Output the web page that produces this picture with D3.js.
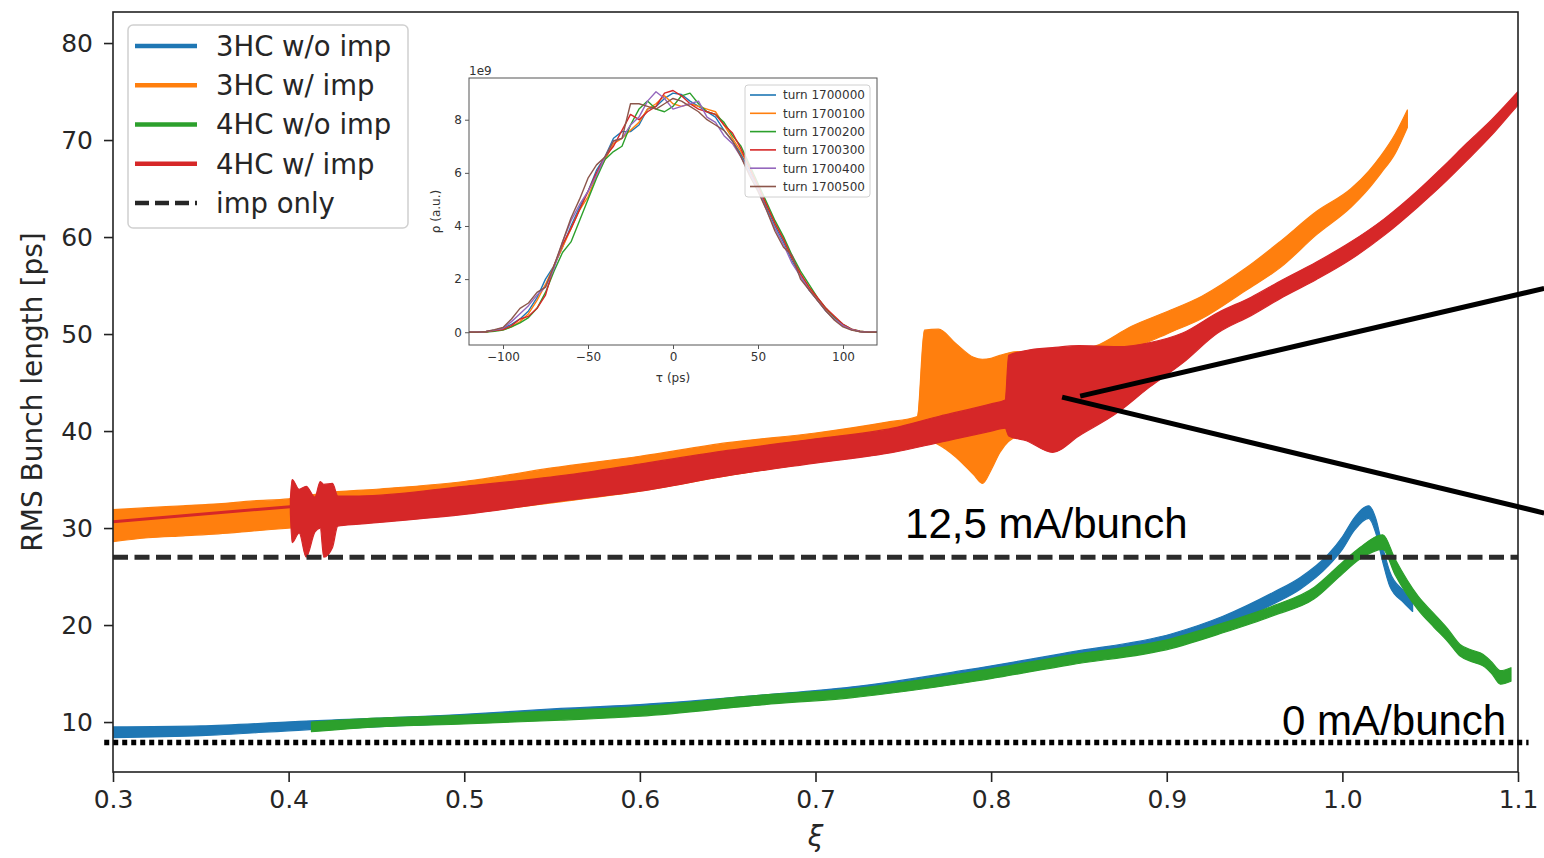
<!DOCTYPE html>
<html><head><meta charset="utf-8">
<script src="https://cdn.jsdelivr.net/npm/d3@7"></script>
<style>body{margin:0;background:#fff}svg{display:block}</style>
</head><body>
<svg id="c" width="1544" height="858"></svg>
<script>
// ---------- main chart data ----------
const xiTicks = [0.3,0.4,0.5,0.6,0.7,0.8,0.9,1.0,1.1];
const yTicks = [10,20,30,40,50,60,70,80];
const legendLabels = ["3HC w/o imp","3HC w/ imp","4HC w/o imp","4HC w/ imp","imp only"];
const impOnly = 27.0;       // dashed line
const zeroCurrent = 7.9;    // dotted line (0 mA/bunch)

// 3HC w/o imp (blue): xi, lower, upper envelope
const blueXi = [0.300,0.350,0.410,0.500,0.555,0.600,0.671,0.720,0.787,0.845,0.903,0.932,0.961,0.976,0.992,1.000,1.007,1.015,1.019,1.023,1.027,1.035,1.040];
const blueLo = [8.4,8.6,9.2,9.9,10.5,10.9,11.9,12.7,14.4,16.3,18.1,19.8,22.2,23.7,26.1,27.8,29.8,31.0,29.5,26.5,24.0,22.3,21.4];
const blueHi = [9.5,9.6,10.1,10.8,11.4,11.8,12.8,13.6,15.4,17.2,19.1,20.9,23.4,24.9,27.3,29.1,31.1,32.3,31.0,28.0,25.5,23.5,22.5];

// 3HC w/ imp (orange)
const orangeXi = [0.300,0.320,0.340,0.360,0.380,0.400,0.420,0.450,0.500,0.550,0.600,0.650,0.700,0.740,0.758,0.762,0.770,0.780,0.790,0.795,0.800,0.805,0.815,0.825,0.840,0.860,0.880,0.900,0.920,0.945,0.965,0.985,1.005,1.015,1.022,1.030,1.037];
const orangeLo = [28.6,29.0,29.2,29.4,29.7,30.0,30.3,30.7,31.5,32.6,33.8,35.4,36.8,38.0,38.6,39.1,38.6,37.3,35.5,34.6,36.0,37.8,39.4,39.5,41.0,44.5,48.2,50.0,51.6,54.5,56.9,60.2,63.1,65.0,66.6,68.6,71.3];
const orangeHi = [31.9,32.1,32.3,32.5,32.8,33.0,33.6,34.0,34.8,36.2,37.4,38.8,39.8,40.9,41.5,50.4,50.5,49.0,47.6,47.4,47.5,47.8,48.2,48.0,48.0,48.8,50.8,52.3,53.9,56.8,59.6,62.6,65.0,66.8,68.4,70.6,73.1];

// 4HC w/o imp (green)
const greenXi = [0.413,0.450,0.500,0.555,0.600,0.671,0.720,0.787,0.845,0.903,0.932,0.961,0.984,0.999,1.010,1.023,1.030,1.043,1.052,1.060,1.067,1.074,1.080,1.085,1.090,1.096];
const greenLo = [9.0,9.5,9.8,10.2,10.6,11.8,12.5,14.1,15.9,17.6,19.2,21.0,22.7,25.1,26.8,27.8,25.2,21.6,19.8,18.3,16.8,16.2,15.8,15.0,13.9,14.2];
const greenHi = [10.0,10.4,10.7,11.2,11.6,12.8,13.4,15.1,16.9,18.6,20.2,22.0,23.9,26.3,28.0,29.3,26.8,23.0,21.2,19.6,18.0,17.4,17.0,16.2,15.3,15.6];

// 4HC w/ imp (red): thin stable part, then noisy band
const redLineXi = [0.300,0.401];
const redLineY  = [30.65,32.2];
const redXi = [0.401,0.402,0.406,0.410,0.415,0.418,0.420,0.425,0.428,0.440,0.500,0.560,0.600,0.650,0.700,0.744,0.770,0.800,0.808,0.810,0.820,0.835,0.850,0.872,0.890,0.909,0.929,0.948,0.966,0.985,1.004,1.024,1.043,1.057,1.071,1.085,1.099,1.100];
const redLo = [31.5,28.5,29.5,27.0,29.6,30.0,27.0,28.0,30.2,30.4,31.4,32.9,33.8,35.4,36.7,37.8,38.8,40.0,40.3,39.5,39.0,37.8,39.5,41.9,44.5,47.0,50.1,51.9,53.8,55.6,57.6,60.2,63.1,65.4,67.9,70.5,73.4,73.6];
const redHi = [33.0,35.0,34.0,34.3,33.2,34.8,34.5,34.6,33.3,33.3,34.3,35.5,36.6,38.0,39.2,40.3,41.5,42.8,43.2,47.8,48.3,48.6,48.8,48.7,49.1,50.1,52.2,53.8,55.6,57.4,59.4,61.9,64.8,67.2,69.7,72.1,74.8,75.0];

// annotations (data coordinates)
const annText = ["12,5 mA/bunch","0 mA/bunch"];
const annTextPos = [[0.751,29.0],[1.0933,8.66]];
const zoomLineA = [[0.8507,43.6],[1.1149,54.7]];
const zoomLineB = [[0.8404,43.5],[1.1149,31.55]];

// ---------- inset data ----------
const tau = [-120,-115,-110,-105,-100,-95,-90,-85,-80,-75,-70,-65,-60,-55,-50,-45,-40,-35,-30,-25,-20,-15,-10,-5,0,5,10,15,20,25,30,35,40,45,50,55,60,65,70,75,80,85,90,95,100,105,110,115,120];
const turnLabels = ["turn 1700000","turn 1700100","turn 1700200","turn 1700300","turn 1700400","turn 1700500"];
const turn0 = [0,0,0.02,0.08, 0.15,0.3,0.5,0.8,1.3, 2.0,2.5,3.2,4.0,4.7, 5.3,6.1,6.6,7.3,7.55, 7.55,7.8,8.4,8.5,8.8, 9.0, 8.95,8.7,8.5,8.3,8.1, 7.6,7.2,6.7,6.1,5.4, 4.7,4.0,3.4,2.7,2.1, 1.6,1.2,0.8,0.5,0.25, 0.1,0.03,0,0];
const turn1 = [0,0,0.02,0.06, 0.1,0.2,0.4,0.7,1.2, 1.8,2.5,3.2,3.9,4.6, 5.1,5.9,6.5,7.1,7.3, 7.6,7.9,8.4,8.6,8.9, 8.6, 8.5,8.6,8.5,8.4,8.3, 7.8,7.3,6.8,6.2,5.5, 4.8,4.1,3.5,2.8,2.2, 1.7,1.2,0.85,0.5,0.25, 0.1,0.03,0,0];
const turn2 = [0,0,0.01,0.04, 0.08,0.2,0.35,0.55,0.9, 1.5,2.3,3.0,3.4,4.2, 5.0,5.8,6.5,6.8,7.0, 7.8,8.4,8.7,8.4,8.3, 8.5, 8.9,9.0,8.6,8.3,8.2, 7.9,7.4,7.0,6.3,5.6, 4.9,4.2,3.6,2.9,2.3, 1.8,1.3,0.9,0.55,0.3, 0.12,0.04,0,0];
const turn3 = [0,0,0.02,0.06, 0.1,0.25,0.5,0.6,0.9, 1.4,2.5,3.3,3.9,4.6, 5.3,6.0,6.6,7.0,7.6, 8.2,8.0,8.3,8.5,9.0, 9.1, 8.9,8.6,8.4,8.3,8.2, 7.8,7.5,6.9,6.2,5.5, 4.8,4.1,3.5,2.8,2.2, 1.7,1.3,0.9,0.6,0.3, 0.12,0.04,0,0];
const turn4 = [0,0,0.03,0.08, 0.15,0.4,0.7,1.0,1.4, 1.7,2.4,3.4,4.2,4.8, 5.3,5.9,6.6,7.2,7.3, 7.8,8.1,8.7,9.05,8.8, 8.4, 8.5,8.6,8.7,8.1,7.9, 7.4,7.1,6.6,6.0,5.4, 4.6,3.9,3.3,2.6,2.1, 1.6,1.2,0.8,0.5,0.25, 0.1,0.03,0,0];
const turn5 = [0,0,0.03,0.1, 0.18,0.5,0.9,1.1,1.5, 1.7,2.5,3.4,4.3,5.0, 5.8,6.3,6.6,7.2,7.3, 8.6,8.6,8.5,8.4,8.6, 8.8, 8.7,8.5,8.3,8.0,7.8, 7.6,7.2,6.6,5.9,5.3, 4.6,3.8,3.2,2.9,2.0, 1.6,1.2,0.8,0.45,0.2, 0.08,0.02,0,0];
const insetXTicks = [-100,-50,0,50,100];
const insetYTicks = [0,2,4,6,8];

// ---------- drawing ----------
const C = {blue:"#1f77b4",orange:"#ff7f0e",green:"#2ca02c",red:"#d62728",purple:"#9467bd",brown:"#8c564b"};
const FONT = "'DejaVu Sans', sans-serif";
const svg = d3.select("#c");
const x = d3.scaleLinear().domain([0.3,1.1]).range([113,1518]);
const y = d3.scaleLinear().domain([4.85,83.2]).range([772,12]);

svg.append("defs").append("clipPath").attr("id","clipMain")
  .append("rect").attr("x",x.range()[0]).attr("y",y.range()[1])
  .attr("width",x.range()[1]-x.range()[0]).attr("height",y.range()[0]-y.range()[1]);

const plot = svg.append("g").attr("clip-path","url(#clipMain)");
const area = d3.area().x(d=>x(d[0])).y0(d=>y(d[1])).y1(d=>y(d[2])).curve(d3.curveMonotoneX);
const line = d3.line().x(d=>x(d[0])).y(d=>y(d[1]));

function drawBand(xi,lo,hi,color){
  plot.append("path").datum(d3.zip(xi,lo,hi)).attr("d",area)
    .attr("fill",color).attr("stroke",color).attr("stroke-width",1.2).attr("stroke-linejoin","round");
}
drawBand(blueXi,blueLo,blueHi,C.blue);
drawBand(orangeXi,orangeLo,orangeHi,C.orange);
drawBand(greenXi,greenLo,greenHi,C.green);
plot.append("path").datum(d3.zip(redLineXi,redLineY)).attr("d",line)
  .attr("fill","none").attr("stroke",C.red).attr("stroke-width",3);
drawBand(redXi,redLo,redHi,C.red);

// imp only dashed line
plot.append("path").datum([[0.3,impOnly],[1.1,impOnly]]).attr("d",line)
  .attr("stroke","#2b2b2b").attr("stroke-width",5).attr("stroke-dasharray","15,6.5").attr("fill","none");

// frame
svg.append("rect").attr("x",x.range()[0]).attr("y",y.range()[1])
  .attr("width",x.range()[1]-x.range()[0]).attr("height",y.range()[0]-y.range()[1])
  .attr("fill","none").attr("stroke","#222").attr("stroke-width",1.6);

// axes
const xAxis = svg.append("g").attr("transform",`translate(0,${y.range()[0]})`)
  .call(d3.axisBottom(x).tickValues(xiTicks).tickFormat(d3.format(".1f")).tickSize(10).tickPadding(8));
const yAxis = svg.append("g").attr("transform",`translate(${x.range()[0]},0)`)
  .call(d3.axisLeft(y).tickValues(yTicks).tickSize(9).tickPadding(11));
[xAxis,yAxis].forEach(g=>{
  g.select(".domain").remove();
  g.selectAll(".tick line").attr("stroke","#222").attr("stroke-width",1.6);
  g.selectAll(".tick text").attr("fill","#262626").style("font-family",FONT).style("font-size","25px");
});

svg.append("text").attr("x",(x.range()[0]+x.range()[1])/2).attr("y",846)
  .attr("text-anchor","middle").style("font-family",FONT).style("font-size","28px").style("font-style","italic")
  .attr("fill","#262626").text("ξ");
svg.append("text").attr("transform",`translate(42,${(y.range()[0]+y.range()[1])/2}) rotate(-90)`)
  .attr("text-anchor","middle").style("font-family",FONT).style("font-size","28px")
  .attr("fill","#262626").text("RMS Bunch length [ps]");

// legend
const leg = svg.append("g");
leg.append("rect").attr("x",128).attr("y",25).attr("width",280).attr("height",203).attr("rx",5)
  .attr("fill","#fff").attr("fill-opacity",0.85).attr("stroke","#d0d0d0").attr("stroke-width",1.5);
const legColors = [C.blue,C.orange,C.green,C.red,"#262626"];
legendLabels.forEach((lab,i)=>{
  const yy = 46 + i*39.25;
  leg.append("line").attr("x1",135).attr("x2",197).attr("y1",yy).attr("y2",yy)
    .attr("stroke",legColors[i]).attr("stroke-width",4.5)
    .attr("stroke-dasharray",i===4?"14,6":null);
  leg.append("text").attr("x",216).attr("y",yy).attr("dy","0.36em")
    .style("font-family",FONT).style("font-size","27.5px").attr("fill","#262626").text(lab);
});

// annotations (overlay)
svg.append("path").datum([[0.295,zeroCurrent],[1.106,zeroCurrent]]).attr("d",line)
  .attr("stroke","#000").attr("stroke-width",5.5).attr("stroke-dasharray","5,4").attr("fill","none");
svg.append("text").attr("x",x(annTextPos[0][0])).attr("y",y(annTextPos[0][1]))
  .style("font-family","'Liberation Sans', Arial, sans-serif").style("font-size","42px").attr("fill","#000").text(annText[0]);
svg.append("text").attr("x",x(annTextPos[1][0])).attr("y",y(annTextPos[1][1])).attr("text-anchor","end")
  .style("font-family","'Liberation Sans', Arial, sans-serif").style("font-size","42px").attr("fill","#000").text(annText[1]);
[zoomLineA,zoomLineB].forEach(l=>{
  svg.append("path").datum(l).attr("d",line).attr("stroke","#000").attr("stroke-width",5).attr("fill","none");
});

// ---------- inset ----------
const ix = d3.scaleLinear().domain([-120,120]).range([469,877]);
const iy = d3.scaleLinear().domain([-0.48,9.57]).range([345,78]);
const ins = svg.append("g");
ins.append("rect").attr("x",ix.range()[0]-38).attr("y",iy.range()[1]-14)
  .attr("width",ix.range()[1]-ix.range()[0]+48).attr("height",iy.range()[0]-iy.range()[1]+60).attr("fill","#fff");
ins.append("defs").append("clipPath").attr("id","clipIns").append("rect")
  .attr("x",ix.range()[0]).attr("y",iy.range()[1]).attr("width",ix.range()[1]-ix.range()[0]).attr("height",iy.range()[0]-iy.range()[1]);
const turns = [turn0,turn1,turn2,turn3,turn4,turn5];
const turnColors = [C.blue,C.orange,C.green,C.red,C.purple,C.brown];
const iline = d3.line().x(d=>ix(d[0])).y(d=>iy(d[1]));
const ip = ins.append("g").attr("clip-path","url(#clipIns)");
turns.forEach((t,i)=>{
  ip.append("path").datum(d3.zip(tau,t)).attr("d",iline).attr("fill","none")
    .attr("stroke",turnColors[i]).attr("stroke-width",1.4).attr("stroke-linejoin","round");
});
ins.append("rect").attr("x",ix.range()[0]).attr("y",iy.range()[1])
  .attr("width",ix.range()[1]-ix.range()[0]).attr("height",iy.range()[0]-iy.range()[1])
  .attr("fill","none").attr("stroke","#555").attr("stroke-width",1);
const ixa = ins.append("g").attr("transform",`translate(0,${iy.range()[0]})`)
  .call(d3.axisBottom(ix).tickValues(insetXTicks).tickSize(4).tickPadding(3));
const iya = ins.append("g").attr("transform",`translate(${ix.range()[0]},0)`)
  .call(d3.axisLeft(iy).tickValues(insetYTicks).tickSize(4).tickPadding(3));
[ixa,iya].forEach(g=>{
  g.select(".domain").remove();
  g.selectAll(".tick line").attr("stroke","#555");
  g.selectAll(".tick text").attr("fill","#333").style("font-family",FONT).style("font-size","12px");
});
ins.append("text").attr("x",ix.range()[0]).attr("y",iy.range()[1]-3).style("font-family",FONT).style("font-size","12px").attr("fill","#333").text("1e9");
ins.append("text").attr("x",(ix.range()[0]+ix.range()[1])/2).attr("y",382).attr("text-anchor","middle")
  .style("font-family",FONT).style("font-size","12px").attr("fill","#333").text("τ (ps)");
ins.append("text").attr("transform",`translate(440,${(iy.range()[0]+iy.range()[1])/2}) rotate(-90)`).attr("text-anchor","middle")
  .style("font-family",FONT).style("font-size","12px").attr("fill","#333").text("ρ (a.u.)");
const il = ins.append("g");
il.append("rect").attr("x",745).attr("y",85).attr("width",125).attr("height",112).attr("rx",3)
  .attr("fill","#fff").attr("fill-opacity",0.85).attr("stroke","#d0d0d0");
turnLabels.forEach((lab,i)=>{
  const yy = 95 + i*18.3;
  il.append("line").attr("x1",750).attr("x2",776).attr("y1",yy).attr("y2",yy).attr("stroke",turnColors[i]).attr("stroke-width",1.6);
  il.append("text").attr("x",783).attr("y",yy).attr("dy","0.36em").style("font-family",FONT).style("font-size","12px").attr("fill","#333").text(lab);
});
</script>
</body></html>
